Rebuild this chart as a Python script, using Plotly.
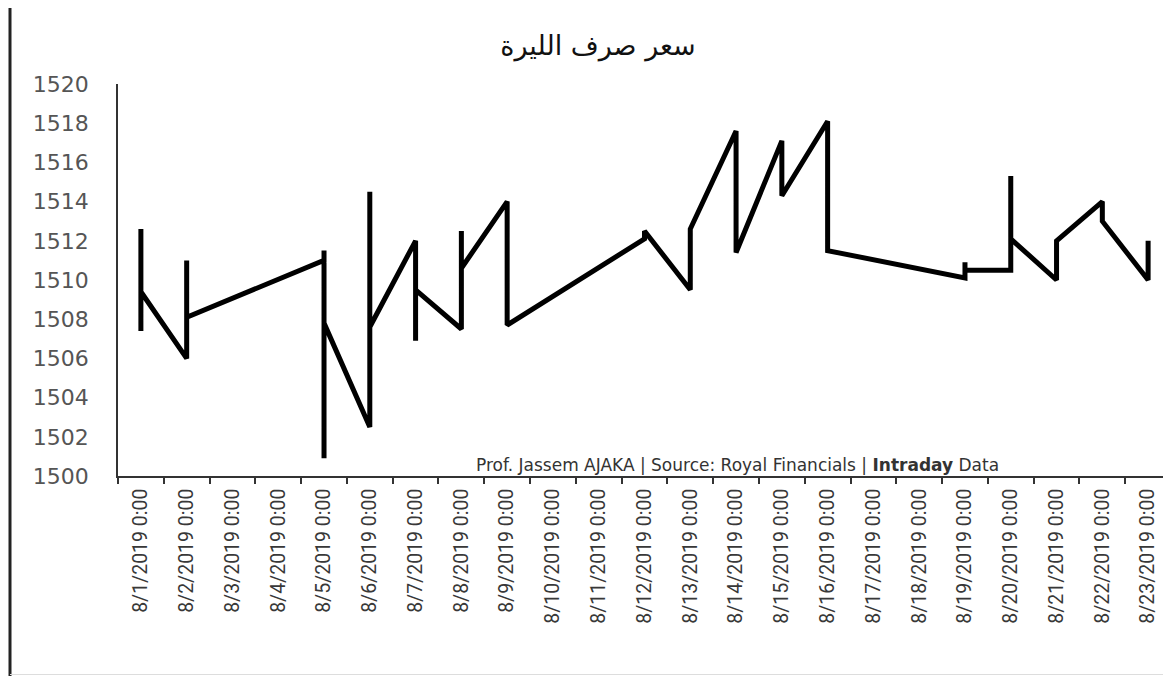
import plotly.graph_objects as go

# ---- data ----
categories = [
    "8/1/2019 0:00", "8/2/2019 0:00", "8/3/2019 0:00", "8/4/2019 0:00",
    "8/5/2019 0:00", "8/6/2019 0:00", "8/7/2019 0:00", "8/8/2019 0:00",
    "8/9/2019 0:00", "8/10/2019 0:00", "8/11/2019 0:00", "8/12/2019 0:00",
    "8/13/2019 0:00", "8/14/2019 0:00", "8/15/2019 0:00", "8/16/2019 0:00",
    "8/17/2019 0:00", "8/18/2019 0:00", "8/19/2019 0:00", "8/20/2019 0:00",
    "8/21/2019 0:00", "8/22/2019 0:00", "8/23/2019 0:00",
]

point_dates = [
    "8/1/2019 0:00", "8/1/2019 0:00", "8/1/2019 0:00",
    "8/2/2019 0:00", "8/2/2019 0:00", "8/2/2019 0:00",
    "8/5/2019 0:00", "8/5/2019 0:00", "8/5/2019 0:00", "8/5/2019 0:00",
    "8/6/2019 0:00", "8/6/2019 0:00", "8/6/2019 0:00",
    "8/7/2019 0:00", "8/7/2019 0:00", "8/7/2019 0:00",
    "8/8/2019 0:00", "8/8/2019 0:00", "8/8/2019 0:00",
    "8/9/2019 0:00", "8/9/2019 0:00",
    "8/12/2019 0:00", "8/12/2019 0:00",
    "8/13/2019 0:00", "8/13/2019 0:00",
    "8/14/2019 0:00", "8/14/2019 0:00",
    "8/15/2019 0:00", "8/15/2019 0:00",
    "8/16/2019 0:00", "8/16/2019 0:00",
    "8/19/2019 0:00", "8/19/2019 0:00", "8/19/2019 0:00",
    "8/20/2019 0:00", "8/20/2019 0:00", "8/20/2019 0:00",
    "8/21/2019 0:00", "8/21/2019 0:00",
    "8/22/2019 0:00", "8/22/2019 0:00",
    "8/23/2019 0:00", "8/23/2019 0:00",
]

rates = [
    1512.6, 1507.4, 1509.4,
    1506.0, 1511.0, 1508.1,
    1511.0, 1511.5, 1500.9, 1507.8,
    1502.5, 1514.5, 1507.6,
    1512.0, 1506.9, 1509.5,
    1507.5, 1512.5, 1510.6,
    1514.0, 1507.7,
    1512.1, 1512.5,
    1509.5, 1512.6,
    1517.6, 1511.4,
    1517.1, 1514.3,
    1518.1, 1511.5,
    1510.1, 1510.9, 1510.5,
    1510.5, 1515.3, 1512.1,
    1510.0, 1512.0,
    1514.0, 1513.0,
    1510.0, 1512.0,
]

y_ticks = [1500, 1502, 1504, 1506, 1508, 1510, 1512, 1514, 1516, 1518, 1520]

title_text = "سعر صرف الليرة"

# ---- figure ----
# The page body has an 8px margin; the figure is sized and placed so that
# reference-pixel positions line up.
OFF = 8
W, H = 1171 - OFF, 676 - OFF
ML, MT, MB = 118 - OFF, 84 - OFF, 676 - 476
MR = 0
pw = W - ML - MR
ph = H - MT - MB


def px_x(x):
    return (x - OFF - ML) / pw


def px_y(y):
    return (H - MB - (y - OFF)) / ph


fig = go.Figure()
fig.add_trace(go.Scatter(
    x=point_dates, y=rates, mode="lines",
    line=dict(color="#000000", width=5),
    hoverinfo="skip", showlegend=False,
))

fig.update_layout(
    width=W, height=H,
    margin=dict(l=ML, r=MR, t=MT, b=MB, autoexpand=False),
    paper_bgcolor="white", plot_bgcolor="white",
    showlegend=False,
    title=dict(text=title_text, x=(598 - OFF) / W, xanchor="center",
               y=1 - (46 - OFF) / H, yanchor="middle",
               font=dict(family="DejaVu Sans", size=27, color="#111111")),
    xaxis=dict(
        type="category", categoryorder="array", categoryarray=categories,
        range=[-0.5, len(categories) - 0.5],
        tickmode="array", tickvals=categories, ticktext=categories,
        tickson="boundaries", ticks="outside", ticklen=6, tickwidth=1.5,
        tickcolor="#333333", tickangle=-90,
        tickfont=dict(family="Roboto", size=19.5, color="#383838"),
        showline=True, linecolor="#333333", linewidth=1.5,
        showgrid=False, zeroline=False, fixedrange=True,
        ticklabelstandoff=3,
    ),
    yaxis=dict(
        range=[1500, 1520], tickmode="array", tickvals=y_ticks,
        ticks="", showline=True, linecolor="#333333", linewidth=1.5,
        tickfont=dict(family="DejaVu Sans", size=22, color="#555555"),
        showgrid=False, zeroline=False, fixedrange=True,
        ticklabelstandoff=23,
    ),
    annotations=[dict(
        text="Prof. Jassem AJAKA | Source: Royal Financials | <b>Intraday</b> Data",
        xref="paper", yref="paper", x=px_x(737), y=px_y(465),
        xanchor="center", yanchor="middle", showarrow=False,
        font=dict(family="DejaVu Sans", size=17, color="#333333"),
    )],
    shapes=[
        dict(type="line", xref="paper", yref="paper",
             x0=px_x(10), x1=px_x(10), y0=px_y(0), y1=px_y(676),
             line=dict(color="#222222", width=3)),
        dict(type="line", xref="paper", yref="paper",
             x0=px_x(10), x1=px_x(1171), y0=px_y(674.5), y1=px_y(674.5),
             line=dict(color="#dddddd", width=1)),
    ],
)

fig.write_html("out.html")
